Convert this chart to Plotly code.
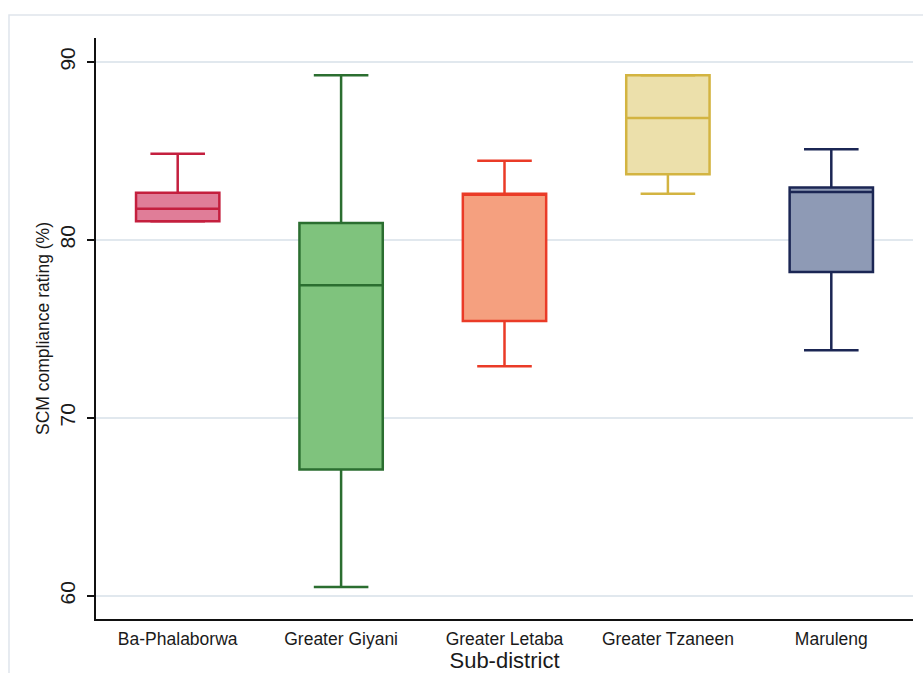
import plotly.graph_objects as go

# Sub-district SCM compliance summary statistics (%)
categories = ["Ba-Phalaborwa", "Greater Giyani", "Greater Letaba", "Greater Tzaneen", "Maruleng"]
lower_whisker = [81.05, 60.5, 72.9, 82.6, 73.8]
q1_values = [81.05, 67.1, 75.45, 83.7, 78.2]
median_values = [81.75, 77.45, 82.6, 86.85, 82.7]
q3_values = [82.65, 80.95, 82.6, 89.25, 82.95]
upper_whisker = [84.85, 89.25, 84.45, 89.25, 85.1]

line_colors = ["#c41f3e", "#2b6e30", "#ea3b27", "#d3b441", "#1b2654"]
fill_colors = ["#e07d98", "#7fc37d", "#f5a07f", "#ece0ab", "#8e9ab5"]

y_ticks = [60, 70, 80, 90]

BOX_W = 0.51
CAP_HALF = 0.167

fig = go.Figure()

for i, name in enumerate(categories):
    fig.add_trace(go.Box(
        x=[i],
        q1=[q1_values[i]],
        median=[median_values[i]],
        q3=[q3_values[i]],
        lowerfence=[lower_whisker[i]],
        upperfence=[upper_whisker[i]],
        width=BOX_W,
        fillcolor=fill_colors[i],
        line=dict(color=line_colors[i], width=2.5),
        whiskerwidth=0,
        boxpoints=False,
        name=name,
        showlegend=False,
        hoverinfo="skip",
    ))
    # whisker caps
    fig.add_trace(go.Scatter(
        x=[i - CAP_HALF, i + CAP_HALF, None, i - CAP_HALF, i + CAP_HALF],
        y=[upper_whisker[i], upper_whisker[i], None, lower_whisker[i], lower_whisker[i]],
        mode="lines",
        line=dict(color=line_colors[i], width=2.5),
        showlegend=False,
        hoverinfo="skip",
    ))

# outer light frame around the graph region
fig.add_shape(
    type="rect", xref="paper", yref="paper",
    x0=-0.1065, x1=1.05, y0=-0.2, y1=1.0396,
    line=dict(color="#dfe5ec", width=1.5), fillcolor="rgba(0,0,0,0)", layer="below",
)

fig.update_layout(
    width=923, height=673,
    margin=dict(l=96, r=10, t=38, b=54),
    paper_bgcolor="white", plot_bgcolor="white",
    font=dict(family="Liberation Sans, Arial, sans-serif", color="#1a1a1a"),
    boxmode="overlay",
    xaxis=dict(
        range=[-0.5, 4.5],
        tickvals=list(range(len(categories))),
        ticktext=categories,
        tickfont=dict(size=17.5),
        ticklabelstandoff=3,
        automargin=False,
        showgrid=False, zeroline=False,
        showline=True, linecolor="#111111", linewidth=1.5,
        ticks="",
        title=dict(text="Sub-district", font=dict(size=22), standoff=8),
    ),
    yaxis=dict(
        range=[58.7, 91.35],
        tickvals=y_ticks,
        tickangle=-90,
        tickfont=dict(size=21),
        ticklabelstandoff=4,
        automargin=False,
        showgrid=True, gridcolor="#e1e8ee", gridwidth=1.5,
        zeroline=False,
        showline=True, linecolor="#111111", linewidth=1.5,
        ticks="outside", ticklen=7, tickcolor="#111111", tickwidth=1.5,
        title=dict(text="SCM compliance rating (%)", font=dict(size=17.5), standoff=2),
    ),
)

fig.write_html("out.html")
